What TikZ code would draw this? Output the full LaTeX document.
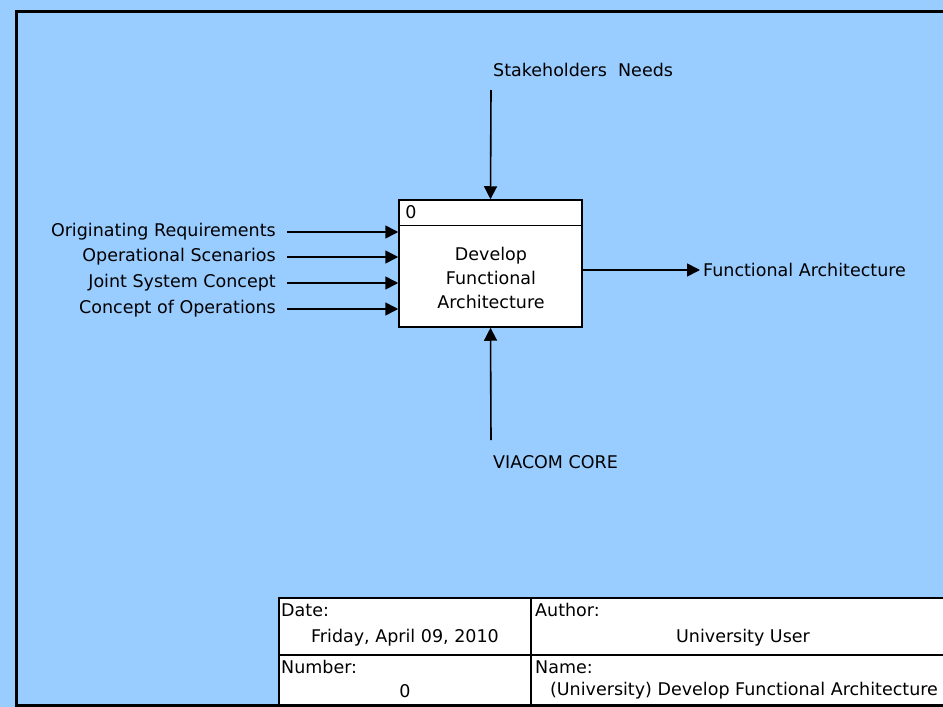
\documentclass[tikz,border=0pt]{standalone}
\usepackage{fontspec}
\setmainfont{DejaVu Sans}
\usetikzlibrary{arrows.meta,positioning}
\definecolor{sheetblue}{HTML}{99CCFF}
\tikzset{
  flow/.style={line width=1.6pt,-{Triangle[length=13pt,width=13pt]}},
  lbl/.style={font=\fontsize{17.5}{20}\selectfont,inner sep=0pt},
}
\begin{document}
\begin{tikzpicture}[x=1pt,y=-1pt]
    % Sheet and frame
    \useasboundingbox (0,0) rectangle (943,707);
    \fill[sheetblue] (0,0) rectangle (943,707);
    \draw[line width=3pt] (943,11) -- (16,11) -- (16,705) -- (943,705);

    % Activity box
    \node[draw,line width=1.5pt,fill=white,minimum width=183pt,minimum height=127pt,inner sep=0pt] (act) at (490.5,263.5) {};
    \draw[line width=1.2pt] ([yshift=-26pt]act.north west) -- ([yshift=-26pt]act.north east);
    \node[lbl,anchor=west] (num) at ([xshift=7pt,yshift=-13pt]act.north west) {0};
    \node[lbl,align=center,font=\fontsize{17.5}{24}\selectfont] (title) at (491,278) {Develop\\Functional\\Architecture};

    % Inputs
    \node[lbl,anchor=east] (orig) at (276,232) {Originating Requirements};
    \node[lbl,anchor=east] (scen) at (276,257) {Operational Scenarios};
    \node[lbl,anchor=east] (joint) at (276,283) {Joint System Concept};
    \node[lbl,anchor=east] (conops) at (276,309) {Concept of Operations};
    \foreach \n in {orig,scen,joint,conops}
        \draw[flow] ([xshift=11pt]\n.east) -- (\n -| act.west);

    % Control
    \node[lbl,anchor=west] (needs) at (493,70) {Stakeholders\ \ Needs};
    \coordinate (ctop) at (491,90);
    \draw[flow] (ctop) -- (act.north);

    % Mechanism
    \node[lbl,anchor=west] (core) at (493,462) {VIACOM CORE};
    \coordinate (mbot) at (491,440);
    \draw[flow] (mbot) -- (act.south);

    % Output
    \node[lbl,anchor=west] (out) at (703,270) {Functional Architecture};
    \draw[flow] (act.east |- out) -- ([xshift=-3pt]out.west);

    % Title block
    \draw[line width=1.5pt,fill=white] (943,598) -- (279,598) -- (279,705) -- (943,705);
    \draw[line width=1.5pt] (279,655) -- (943,655);
    \draw[line width=1.5pt] (531,598) -- (531,705);
    \node[lbl,anchor=west] (date) at (281,610) {Date:};
    \node[lbl] (dateval) at (405,638) {Friday, April 09, 2010};
    \node[lbl,anchor=west] (author) at (535,610) {Author:};
    \node[lbl] (authorval) at (743,638) {University User};
    \node[lbl,anchor=west] (number) at (281,667) {Number:};
    \node[lbl] (numberval) at (405,691) {0};
    \node[lbl,anchor=west] (name) at (535,667) {Name:};
    \node[lbl] (nameval) at (744,691) {(University) Develop Functional Architecture};
\end{tikzpicture}
\end{document}
